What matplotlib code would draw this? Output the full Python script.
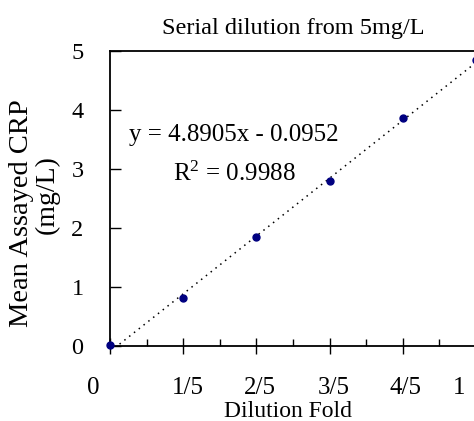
import matplotlib.pyplot as plt
import numpy as np

plt.rcParams["font.family"] = ["Liberation Serif", "DejaVu Serif"]
plt.rcParams["mathtext.fontset"] = "custom"
plt.rcParams["mathtext.rm"] = "Liberation Serif"
plt.rcParams["mathtext.it"] = "Liberation Serif:italic"

# data
fold = [0.0, 0.2, 0.4, 0.6, 0.8, 1.0]
crp = [0.02, 0.81, 1.85, 2.80, 3.85, 4.84]
slope, intercept, r2 = 4.8905, -0.0952, 0.9988
tick_labels = ["0", "1/5", "2/5", "3/5", "4/5", "1"]
label_pos = [-0.047, 0.214, 0.411, 0.611, 0.808, 0.953]

fig = plt.figure(figsize=(4.74, 4.21), dpi=100)
ax = fig.add_axes([0.232, 0.178, 0.772, 0.702])

fit_x = np.linspace(0, 1, 50)
ax.plot(fit_x, slope * fit_x + intercept, color="black", linestyle=(0, (1, 3)),
        linewidth=1.1)
ax.plot(fold, crp, "o", color="#000080", markersize=5, clip_on=False, zorder=3)

ax.set_xlim(0, 1)
ax.set_ylim(0, 5)
ax.set_xticks(np.arange(0, 1.01, 0.2))
ax.set_xticklabels([])
ax.set_xticks(np.arange(0.1, 1.0, 0.2), minor=True)
ax.tick_params(axis="x", which="major", direction="inout", length=11, width=1)
ax.tick_params(axis="x", which="minor", direction="in", length=5, width=1)
ax.set_yticks(range(6))
ax.tick_params(axis="y", direction="in", length=8, width=1, labelsize=17.5, pad=19)

for x, lab in zip(label_pos, tick_labels):
    ax.text(x, -0.142, lab, transform=ax.transAxes, ha="center", va="center",
            fontsize=18)

for side in ax.spines.values():
    side.set_linewidth(1.3)

fig.text(0.618, 0.933, "Serial dilution from 5mg/L", ha="center", va="center",
         fontsize=17.5)
fig.text(0.608, 0.022, "Dilution Fold", ha="center", va="center", fontsize=17)
fig.text(0.046, 0.494, "Mean Assayed CRP", rotation=90, ha="center",
         va="center", fontsize=20.5)
fig.text(0.099, 0.537, "(mg/L)", rotation=90, ha="center", va="center",
         fontsize=20)

ax.text(0.052, 0.713, f"y = {slope}x - {abs(intercept)}", transform=ax.transAxes,
        fontsize=18, va="center")
ax.text(0.173, 0.584, f"R$^2$ = {r2}", transform=ax.transAxes, fontsize=18,
        va="center")

fig.savefig("out.png", dpi=100)
